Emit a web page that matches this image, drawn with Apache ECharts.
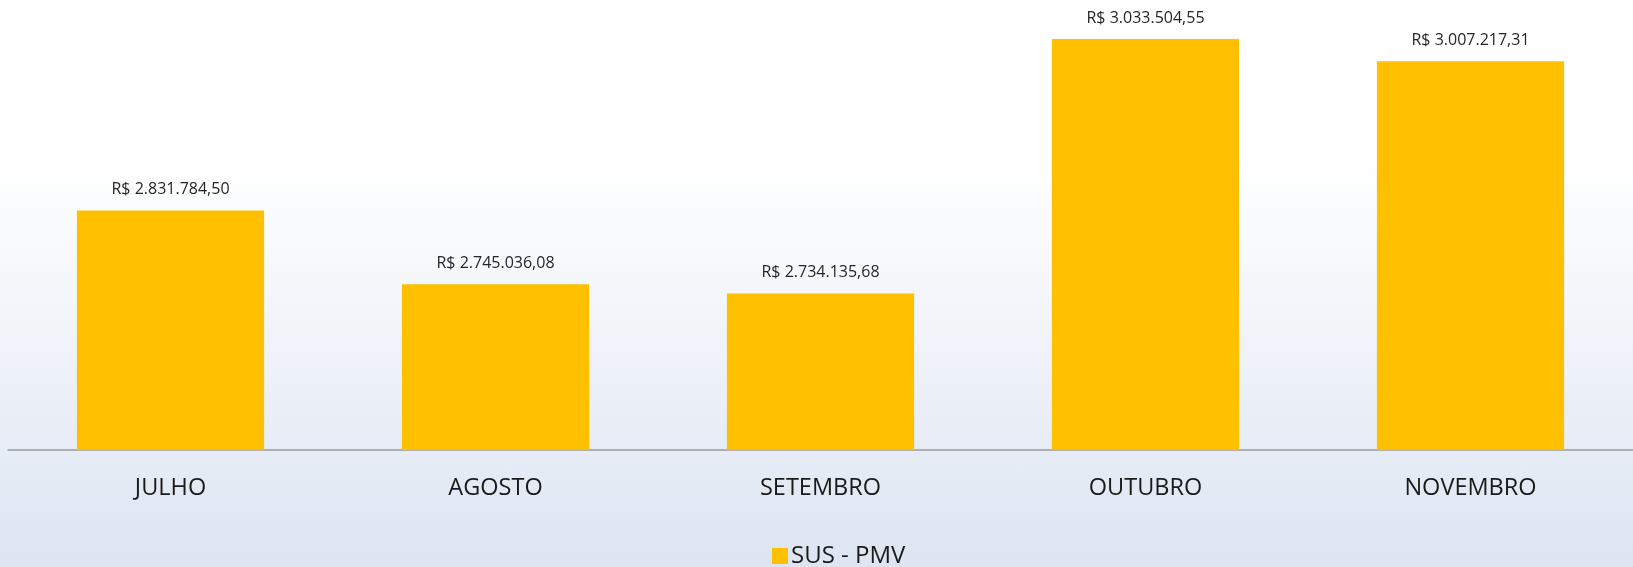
<!DOCTYPE html>
<html>
<head>
<meta charset="utf-8">
<script src="https://cdn.jsdelivr.net/npm/echarts@6/dist/echarts.min.js"></script>
<style>
html,body{margin:0;padding:0;}
#c{width:1633px;height:567px;background:linear-gradient(to bottom,#ffffff 0%,#ffffff 28%,#dde5f2 100%);}
</style>
</head>
<body>
<div id="c"></div>
<script>
const categories = ['JULHO', 'AGOSTO', 'SETEMBRO', 'OUTUBRO', 'NOVEMBRO'];
const values = [2831784.50, 2745036.08, 2734135.68, 3033504.55, 3007217.31];
const seriesName = 'SUS - PMV';

function fmtBRL(v) {
  const parts = v.toFixed(2).split('.');
  const intPart = parts[0].replace(/\B(?=(\d{3})+(?!\d))/g, '.');
  return 'R$ ' + intPart + ',' + parts[1];
}

const chart = echarts.init(document.getElementById('c'), null, {renderer: 'canvas'});
chart.setOption({
  backgroundColor: 'transparent',
  animation: false,
  textStyle: {fontFamily: 'Open Sans'},
  grid: {left: 8, right: -6.5, top: 25, bottom: 117, containLabel: false},
  legend: {
    data: [seriesName],
    bottom: -6,
    left: 767,
    itemWidth: 16,
    itemHeight: 16,
    icon: 'rect',
    itemGap: 4,
    textStyle: {fontSize: 24, color: '#1a1a1a', fontFamily: 'Open Sans', padding: [0, 0, 0, -2]}
  },
  xAxis: {
    type: 'category',
    data: categories,
    axisLine: {show: true, lineStyle: {color: '#9a9a9a', width: 1.5}},
    axisTick: {show: false},
    axisLabel: {fontSize: 23.5, color: '#1a1a1a', margin: 26, fontFamily: 'Open Sans'},
    splitLine: {show: false}
  },
  yAxis: {
    type: 'value',
    min: 2550000,
    max: 3050000,
    show: false,
    splitLine: {show: false}
  },
  series: [{
    name: seriesName,
    type: 'bar',
    data: values,
    barCategoryGap: '42.4%',
    itemStyle: {color: '#FFC000'},
    label: {
      show: true,
      position: 'top',
      distance: 13,
      fontSize: 16,
      color: '#262626',
      fontFamily: 'Open Sans',
      formatter: p => fmtBRL(p.value)
    }
  }]
});
</script>
</body>
</html>
